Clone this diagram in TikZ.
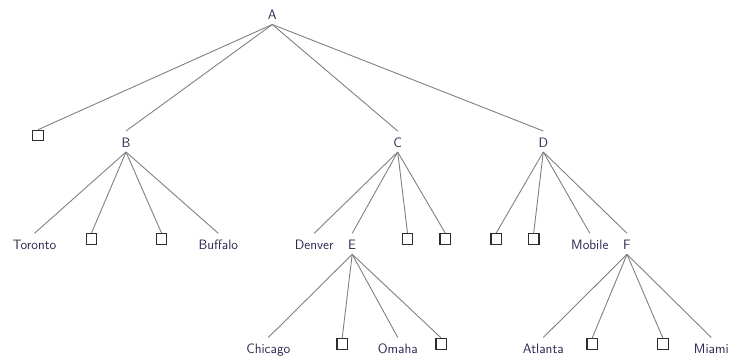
\documentclass[tikz,border=0pt]{standalone}
\begin{document}
\begin{tikzpicture}[x=1pt,y=-1pt,
  lbl/.style={anchor=base,font=\sffamily\fontsize{13.6}{16}\selectfont,text=txtc,
    text height=12pt,text depth=1pt,inner ysep=3.8pt,inner xsep=1pt},
  leaf/.style={draw=sqc,line width=1.1pt,minimum size=10.5pt,inner sep=0pt},
  edge/.style={draw=edgec,line width=0.9pt}]
\definecolor{txtc}{RGB}{40,40,80}
\definecolor{sqc}{RGB}{45,45,45}
\definecolor{edgec}{RGB}{128,128,128}
\useasboundingbox (0,0) rectangle (731,357);
% level 0
\node[lbl] (A) at (272.3,19.5) {A};
% level 1
\node[leaf] (s1) at (38,135.5) {};
\node[lbl] (B) at (126,147) {B};
\node[lbl] (C) at (397.7,147) {C};
\node[lbl] (D) at (543.3,147) {D};
% level 2
\node[lbl] (tor) at (34.5,249.3) {Toronto};
\node[leaf] (b2) at (91.5,238.8) {};
\node[leaf] (b3) at (161.5,238.8) {};
\node[lbl] (buf) at (218.3,249.3) {Buffalo};
\node[lbl] (den) at (314.2,249.3) {Denver};
\node[lbl] (E) at (352.2,249.3) {E};
\node[leaf] (c3) at (407.5,238.8) {};
\node[leaf] (c4) at (445.2,238.8) {};
\node[leaf] (d1) at (496.2,238.8) {};
\node[leaf] (d2) at (533.7,238.8) {};
\node[lbl] (mob) at (589.8,249.3) {Mobile};
\node[lbl] (F) at (627,249.3) {F};
% level 3
\node[lbl] (chi) at (268.3,353.5) {Chicago};
\node[leaf] (e2) at (342.2,343.8) {};
\node[lbl] (oma) at (397.8,353.5) {Omaha};
\node[leaf] (e4) at (441.2,343.8) {};
\node[lbl] (atl) at (543.3,353.5) {Atlanta};
\node[leaf] (f2) at (592.2,343.8) {};
\node[leaf] (f3) at (662.8,343.8) {};
\node[lbl] (mia) at (711.3,353.5) {Miami};
% edges
\foreach \c in {s1,B,C,D} \draw[edge] (A.south) -- (\c.north);
\foreach \c in {tor,b2,b3,buf} \draw[edge] (B.south) -- (\c.north);
\foreach \c in {den,E,c3,c4} \draw[edge] (C.south) -- (\c.north);
\foreach \c in {d1,d2,mob,F} \draw[edge] (D.south) -- (\c.north);
\foreach \c in {chi,e2,oma,e4} \draw[edge] (E.south) -- (\c.north);
\foreach \c in {atl,f2,f3,mia} \draw[edge] (F.south) -- (\c.north);
\end{tikzpicture}
\end{document}
